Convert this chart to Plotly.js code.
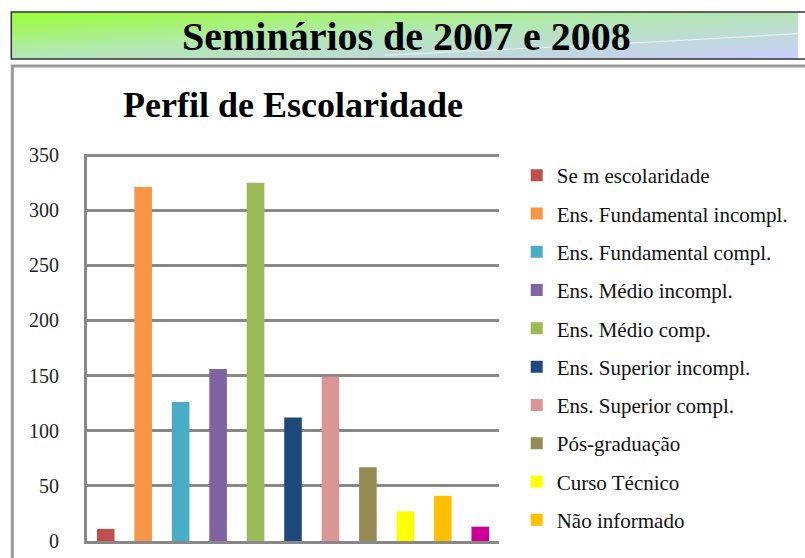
<!DOCTYPE html>
<html>
<head>
<meta charset="utf-8">
<script src="https://cdn.plot.ly/plotly-3.0.1.min.js"></script>
<style>html,body{margin:0;padding:0;background:#fff;}#chart{width:805px;height:558px;}</style>
</head>
<body>
<div id="chart"></div>
<script>
// ---- data ----
const categories = [
  "Sem escolaridade",
  "Ens. Fundamental incompl.",
  "Ens. Fundamental compl.",
  "Ens. Médio incompl.",
  "Ens. Médio comp.",
  "Ens. Superior incompl.",
  "Ens. Superior compl.",
  "Pós-graduação",
  "Curso Técnico",
  "Não informado",
  "Outros"
];
const legendLabels = [
  "Se m escolaridade",
  "Ens. Fundamental incompl.",
  "Ens. Fundamental compl.",
  "Ens. Médio incompl.",
  "Ens. Médio comp.",
  "Ens. Superior incompl.",
  "Ens. Superior compl.",
  "Pós-graduação",
  "Curso Técnico",
  "Não informado",
  ""
];
const values = [11, 321, 126, 156, 325, 112, 149, 67, 27, 41, 13];
const colors = ["#C0504D","#F79646","#4BACC6","#8064A2","#9BBB59","#1F497D","#D99694","#948A54","#FFFF00","#FFC000","#CC0099"];
const yTicks = [0, 50, 100, 150, 200, 250, 300, 350];
const pageTitle = "Seminários de 2007 e 2008";
const chartTitle = "Perfil de Escolaridade";

// ---- geometry helpers (pixel -> paper) ----
const W = 805, H = 558;
const M = {l: 87, r: W - 506, t: 154, b: H - 541};
const PW = W - M.l - M.r, PH = H - M.t - M.b;
const px = x => (x - M.l) / PW;
const py = y => (H - M.b - y) / PH;

const traces = categories.map((c, i) => ({
  type: "bar",
  x: [c],
  y: [values[i]],
  name: legendLabels[i],
  marker: {color: colors[i], line: {width: 0}},
  showlegend: i < 10,
  legendgroup: "g" + i,
  hoverinfo: "x+y"
}));

const bannerSvg = '<svg xmlns="http://www.w3.org/2000/svg" width="800" height="48" viewBox="0 0 800 48" preserveAspectRatio="none">' +
  '<defs><linearGradient id="g" x1="0" y1="0" x2="1" y2="1">' +
  '<stop offset="0" stop-color="#99FF33"/>' +
  '<stop offset="0.45" stop-color="#B2E8B0"/>' +
  '<stop offset="1" stop-color="#CCCCFF"/>' +
  '</linearGradient></defs>' +
  '<rect x="0" y="0" width="800" height="48" fill="url(#g)"/>' +
  '<path d="M 380 44 Q 600 34 800 22" stroke="#ffffff" stroke-opacity="0.6" stroke-width="1.2" fill="none"/>' +
  '</svg>';
const bannerSrc = "data:image/svg+xml;charset=utf-8," + encodeURIComponent(bannerSvg);

const layout = {
  width: W, height: H,
  margin: M,
  paper_bgcolor: "#ffffff",
  plot_bgcolor: "#ffffff",
  font: {family: "Liberation Serif, Times New Roman, serif", color: "#111111"},
  barmode: "overlay",
  bargap: 0.53,
  showlegend: true,
  title: {
    text: "<b>" + chartTitle + "</b>",
    font: {family: "Liberation Serif, serif", size: 36, color: "#000000"},
    xref: "container", yref: "container",
    x: 123 / W, xanchor: "left",
    y: 1 - 104 / H, yanchor: "middle"
  },
  xaxis: {
    type: "category",
    categoryorder: "array", categoryarray: categories,
    showticklabels: false, ticks: "",
    showgrid: false, zeroline: false,
    showline: true, linecolor: "#888888", linewidth: 3,
    fixedrange: true
  },
  yaxis: {
    range: [0, 351],
    tickvals: yTicks,
    ticktext: yTicks.map(String),
    ticks: "",
    ticklabelstandoff: 21,
    tickfont: {family: "Liberation Serif, serif", size: 20, color: "#222222"},
    showgrid: true, gridcolor: "#888888", gridwidth: 3,
    zeroline: false,
    showline: true, linecolor: "#888888", linewidth: 3,
    fixedrange: true
  },
  legend: {
    x: px(524), xanchor: "left",
    y: py(155), yanchor: "top",
    font: {family: "Liberation Serif, serif", size: 21, color: "#111111"},
    bgcolor: "rgba(0,0,0,0)",
    traceorder: "grouped",
    tracegroupgap: 8,
    itemwidth: 30
  },
  images: [{
    source: bannerSrc,
    xref: "paper", yref: "paper",
    x: px(10), y: py(12),
    sizex: px(810) - px(10), sizey: py(12) - py(59),
    xanchor: "left", yanchor: "top",
    sizing: "stretch", layer: "below"
  }],
  shapes: [
    {type: "rect", xref: "paper", yref: "paper",
     x0: px(10), x1: px(830), y0: py(12), y1: py(59),
     line: {color: "#333333", width: 1.5}, fillcolor: "rgba(0,0,0,0)"},
    {type: "rect", xref: "paper", yref: "paper",
     x0: px(11), x1: px(840), y0: py(66), y1: py(600),
     line: {color: "#999999", width: 3}, fillcolor: "rgba(0,0,0,0)"}
  ],
  annotations: [{
    text: "<b>" + pageTitle + "</b>",
    xref: "paper", yref: "paper",
    x: px(412), y: py(36),
    xanchor: "center", yanchor: "middle",
    showarrow: false,
    font: {family: "Liberation Serif, serif", size: 40, color: "#000000"}
  }]
};

Plotly.newPlot("chart", traces, layout, {displayModeBar: false, staticPlot: true});
</script>
</body>
</html>
